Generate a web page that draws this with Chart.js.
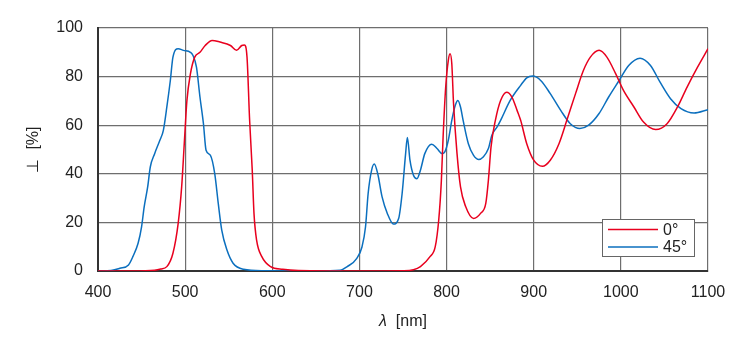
<!DOCTYPE html>
<html>
<head>
<meta charset="utf-8">
<script src="https://cdn.jsdelivr.net/npm/chart.js@4"></script>
<style>
  html, body { margin: 0; padding: 0; background: #fff; }
  #wrap { width: 750px; height: 350px; }
</style>
</head>
<body>
<div id="wrap"><canvas id="myChart" width="750" height="350"></canvas></div>
<script>
// series labels
const seriesNames = ['0°', '45°'];

// 0° curve: wavelength [nm] / transmission [%]
const wl0 = [400,440,465,472,479,486,492,496,499,502,506,511,517,523,531,540,552,559,565,568,
  571,574,577,579,582,588,598,612,630,700,750,762,770,781,787,791,794,796,799,802,
  804,806,808,812,816,822,831,839,845,848,851,856,862,869,875,881,885,892,900,910,
  919,929,938,948,957,965,975,984,994,1003,1015,1026,1040,1053,1065,1076,1088,1100];
const t0 = [0,0,0.3,0.8,1.8,7.3,19.6,34.6,52.4,70,81,88,90,92.8,94.9,94.2,92.8,90.8,92.8,93,
  88,62,41.5,23.7,12.7,5.9,1.8,0.7,0.2,0,0.1,0.5,1.8,5.9,10,21,37,55,75.7,86.7,
  89.4,85.3,68.9,48.3,34.6,26.4,21.6,23.7,27.8,37.4,51,62,70.2,73.6,71.6,66,62,52.4,45.6,43.1,
  45.6,52.4,62,73,82.5,88,90.8,88,81.2,74.3,67.5,61.3,58.2,60.6,67.5,75.7,83.9,91.5];

// 45° curve
const wl45 = [400,415,425,435,440,446,450,453,457,460,465,471,475,479,483,486,492,498,506,509,
  513,517,521,524,529,534,538,542,548,555,567,590,650,678,686,697,703,707,710,714,
  717,721,726,732,739,745,749,753,755,758,762,766,770,775,783,789,795,798,802,806,
  810,813,816,819,825,831,837,842,848,852,858,862,873,885,892,899,908,919,931,942,
  953,963,975,986,998,1009,1022,1034,1045,1057,1069,1084,1100];
const t45 = [0,0.2,1.1,2.5,5.9,11.4,18.2,26.4,34.6,42.8,48.3,53.8,57.9,67.5,78.4,88,91.5,90.8,90,88.7,
  83.9,71.6,60.6,49.7,47.6,40,27.8,16.8,8.6,3.2,0.7,0.1,0,0.3,1.8,5.2,10,18.2,31.9,41.5,
  44,40,30.5,23.7,19.3,21.6,31.9,48.3,54.9,45.6,39.4,38,41.5,48.3,52.2,50.4,48.3,49,53.8,62,
  68.2,70.2,67.5,62,52.4,47.6,45.9,46.9,50.4,55.9,59.3,62,70.2,76.4,79.5,80.2,78.4,73,66.1,60.6,
  58.6,60,64.8,71.6,78.4,84.6,87.6,84.6,77.7,70.9,66.8,65,66.4];

const colors = ['#e8001e', '#0b6fbe'];
const fontFamily = '"Liberation Sans", Arial, Helvetica, sans-serif';
const pts = (xs, ys) => xs.map((x, i) => ({ x, y: ys[i] }));

// legend box inside the plot (lower right) + x axis title with italic lambda
const extras = {
  id: 'extras',
  afterDraw(chart) {
    const ctx = chart.ctx;
    const x = 602, y = 219, w = 92, h = 37;
    ctx.save();
    ctx.fillStyle = '#fff';
    ctx.fillRect(x, y, w, h);
    ctx.strokeStyle = '#666';
    ctx.lineWidth = 1;
    ctx.strokeRect(x + 0.5, y + 0.5, w, h);
    ctx.font = '16px ' + fontFamily;
    ctx.textBaseline = 'middle';
    chart.data.datasets.forEach((ds, i) => {
      const ly = y + 10.5 + i * 17.5;
      ctx.strokeStyle = ds.borderColor;
      ctx.lineWidth = 1.5;
      ctx.beginPath();
      ctx.moveTo(x + 6, ly);
      ctx.lineTo(x + 56, ly);
      ctx.stroke();
      ctx.fillStyle = '#222';
      ctx.fillText(ds.label, x + 61, ly + 1);
    });

    // x title: "λ [nm]" with the symbol in italics
    const area = chart.chartArea;
    const cx = (area.left + area.right) / 2;
    const sym = 'λ', unit = '[nm]';
    ctx.font = 'italic 16px ' + fontFamily;
    const ws = ctx.measureText(sym + '  ').width;
    ctx.font = '16px ' + fontFamily;
    const wu = ctx.measureText(unit).width;
    const sx = cx - (ws + wu) / 2;
    ctx.fillStyle = '#222';
    ctx.textAlign = 'left';
    ctx.font = 'italic 16px ' + fontFamily;
    ctx.fillText(sym, sx, 322);
    ctx.font = '16px ' + fontFamily;
    ctx.fillText(unit, sx + ws, 322);
    ctx.restore();
  }
};

const ctx = document.getElementById('myChart').getContext('2d');
new Chart(ctx, {
  type: 'line',
  data: {
    datasets: [
      { label: seriesNames[0], data: pts(wl0, t0), borderColor: colors[0] },
      { label: seriesNames[1], data: pts(wl45, t45), borderColor: colors[1] }
    ].map((d) => Object.assign(d, {
      borderWidth: 1.5, pointRadius: 0, fill: false,
      cubicInterpolationMode: 'monotone'
    }))
  },
  options: {
    responsive: false,
    animation: false,
    events: [],
    layout: { padding: { left: 24, right: 42, top: 28, bottom: 0 } },
    plugins: { legend: { display: false }, tooltip: { enabled: false } },
    scales: {
      x: {
        type: 'linear', min: 400, max: 1100,
        ticks: { stepSize: 100, color: '#222', padding: 12, font: { size: 16, family: fontFamily },
          callback: (v) => String(v) },
        grid: { color: '#6e6e6e', lineWidth: 1.2, drawTicks: false },
        border: { color: '#333', width: 2 },
        afterFit(scale) { scale.height = 350 - 271; }
      },
      y: {
        min: 0, max: 100,
        ticks: { stepSize: 20, color: '#222', padding: 15, font: { size: 16, family: fontFamily } },
        grid: { color: '#6e6e6e', lineWidth: 1.2, drawTicks: false },
        border: { color: '#333', width: 2 },
        title: { display: true, text: '⊥  [%]', color: '#222', padding: { top: 0, bottom: 0 },
          font: { size: 16, family: fontFamily } },
        afterFit(scale) { scale.width = 98 - 24; }
      }
    }
  },
  plugins: [extras]
});
</script>
</body>
</html>
